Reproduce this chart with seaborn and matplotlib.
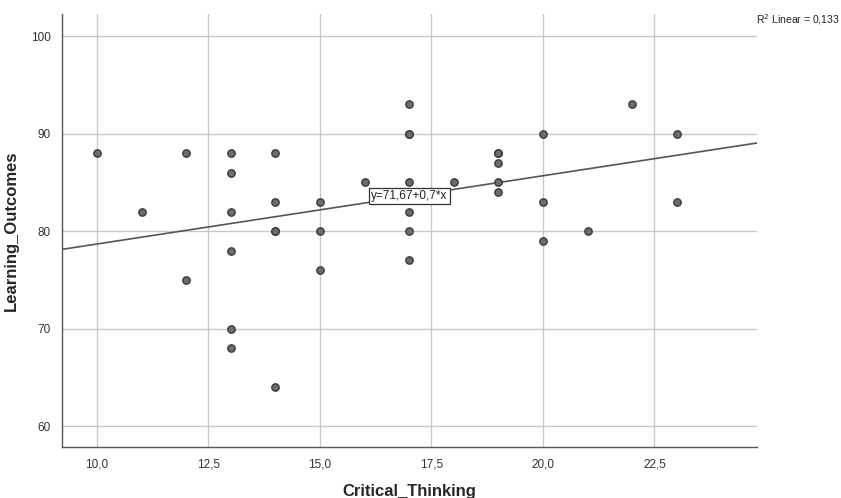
import numpy as np
import pandas as pd
import seaborn as sns
from matplotlib import pyplot as plt

# values
critical_thinking = [10, 11, 12, 12,
                     13, 13, 13, 13, 13, 13,
                     14, 14, 14, 14, 14,
                     15, 15, 15, 16,
                     17, 17, 17, 17, 17, 17, 17,
                     18, 19, 19, 19, 19, 19,
                     20, 20, 20, 21, 22, 23, 23]
learning_outcomes = [88, 82, 88, 75,
                     88, 86, 82, 78, 70, 68,
                     88, 83, 80, 80, 64,
                     83, 80, 76, 85,
                     93, 90, 90, 85, 82, 80, 77,
                     85, 88, 88, 87, 85, 84,
                     90, 83, 79, 80, 93, 90, 83]
x_ticks = [10.0, 12.5, 15.0, 17.5, 20.0, 22.5]
y_ticks = [60, 70, 80, 90, 100]
intercept, slope, r_squared = 71.67, 0.7, 0.133

df = pd.DataFrame({'Critical_Thinking': critical_thinking,
                   'Learning_Outcomes': learning_outcomes})

sns.set_style('white')
plt.rcParams['font.family'] = ['Liberation Sans', 'DejaVu Sans']

fig = plt.figure(figsize=(8.41, 4.98), dpi=100)
ax = fig.add_axes([0.0737, 0.1024, 0.8264, 0.8695])
ax.set_xlim(9.215, 24.80)
ax.set_ylim(57.85, 102.26)

ax.set_axisbelow(True)
ax.grid(True, color='#c8c8c8', linewidth=1.0)

sns.scatterplot(data=df, x='Critical_Thinking', y='Learning_Outcomes', ax=ax,
                color='#6c6c6c', edgecolor='#3a3a3a', linewidth=1.0, s=28,
                zorder=3)

line_x = np.array(ax.get_xlim())
sns.lineplot(x=line_x, y=intercept + slope * line_x, ax=ax,
             color='#555555', linewidth=1.2, zorder=2)

ax.text(17.0, 83.6, 'y=71,67+0,7*x', ha='center', va='center', fontsize=8.5,
        color='#222222', zorder=4,
        bbox=dict(boxstyle='square,pad=0.2', fc='white', ec='#333333', lw=0.9))

fig.text(756 / 841, 1 - 20 / 498, f'R$^2$ Linear = {r_squared:.3f}'.replace('.', ','),
         fontsize=7.5, color='#222222', ha='left', va='center')

ax.set_xticks(x_ticks)
ax.set_xticklabels([f'{t:.1f}'.replace('.', ',') for t in x_ticks])
ax.set_yticks(y_ticks)
ax.set_yticklabels([str(t) for t in y_ticks])
ax.tick_params(axis='both', length=0, labelsize=8.5, labelcolor='#333333', pad=8)

for side in ('top', 'right'):
    ax.spines[side].set_visible(False)
for side in ('left', 'bottom'):
    ax.spines[side].set_color('#555555')
    ax.spines[side].set_linewidth(1.0)

ax.set_xlabel('Critical_Thinking', fontsize=12, fontweight='bold', labelpad=10)
ax.set_ylabel('Learning_Outcomes', fontsize=12, fontweight='bold', labelpad=9)

fig.savefig('out.png', dpi=100)
